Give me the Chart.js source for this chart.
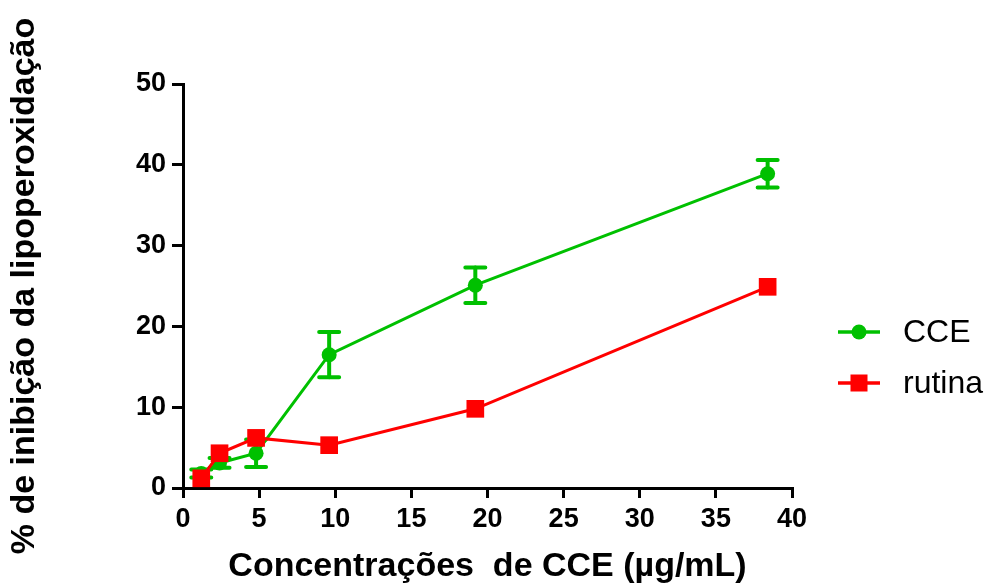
<!DOCTYPE html>
<html>
<head>
<meta charset="utf-8">
<script src="https://cdn.jsdelivr.net/npm/chart.js@4"></script>
<style>
  html, body { margin: 0; padding: 0; background: #fff; }
  #wrap { width: 989px; height: 584px; }
</style>
</head>
<body>
<div id="wrap"><canvas id="c" width="989" height="584"></canvas></div>
<script>
// Concentrations (µg/mL)
const concentrations = [1.2, 2.4, 4.8, 9.6, 19.2, 38.4];
// % inhibition, CCE extract (mean and error)
const cceValues = [1.8, 3.1, 4.3, 16.5, 25.1, 38.9];
const cceErrors = [0.5, 0.6, 1.7, 2.8, 2.2, 1.7];
// % inhibition, rutin reference
const rutinaValues = [1.2, 4.3, 6.2, 5.3, 9.8, 24.9];

const seriesNames = ['CCE', 'rutina'];
const xTicks = [0, 5, 10, 15, 20, 25, 30, 35, 40];
const yTicks = [0, 10, 20, 30, 40, 50];
const xTitle = 'Concentrações  de CCE (µg/mL)';
const yTitle = '% de inibição da lipoperoxidação';

const GREEN = '#00c000';
const RED = '#ff0000';
const FONT = '"Liberation Sans", Arial, sans-serif';

const toPoints = (xs, ys) => xs.map((x, i) => ({ x, y: ys[i] }));

// vertical error bars with caps for the CCE series
const errorBars = {
  id: 'errorBars',
  afterDatasetDraw(chart, args) {
    const ds = chart.data.datasets[args.index];
    if (!ds.errors) return;
    const xs = chart.scales.x, ys = chart.scales.y;
    const ctx = chart.ctx;
    ctx.save();
    ctx.strokeStyle = ds.borderColor;
    ctx.lineCap = 'round';
    ds.data.forEach((p, i) => {
      const e = ds.errors[i];
      const px = xs.getPixelForValue(p.x);
      const top = ys.getPixelForValue(p.y + e);
      const bot = ys.getPixelForValue(p.y - e);
      ctx.lineWidth = 4;
      ctx.beginPath();
      ctx.moveTo(px, top); ctx.lineTo(px, bot);
      ctx.stroke();
      ctx.lineWidth = 4;
      ctx.beginPath();
      ctx.moveTo(px - 10, top); ctx.lineTo(px + 10, top);
      ctx.moveTo(px - 10, bot); ctx.lineTo(px + 10, bot);
      ctx.stroke();
    });
    ctx.restore();
  }
};

// legend at the right: short line with the series marker, then the name
const sideLegend = {
  id: 'sideLegend',
  afterDraw(chart) {
    const ctx = chart.ctx;
    const area = chart.chartArea;
    const x0 = area.right + 46;
    const rows = [area.top + 248, area.top + 299];
    ctx.save();
    chart.data.datasets.forEach((ds, i) => {
      const y = rows[i];
      ctx.strokeStyle = ds.borderColor;
      ctx.fillStyle = ds.backgroundColor;
      ctx.lineWidth = 3.5;
      ctx.beginPath();
      ctx.moveTo(x0, y); ctx.lineTo(x0 + 42, y);
      ctx.stroke();
      if (ds.pointStyle === 'rect') {
        ctx.fillRect(x0 + 21 - 8.5, y - 8.5, 17, 17);
      } else {
        ctx.beginPath();
        ctx.arc(x0 + 21, y, 7.5, 0, Math.PI * 2);
        ctx.fill();
      }
      ctx.fillStyle = '#000';
      ctx.font = '32px ' + FONT;
      ctx.textBaseline = 'middle';
      ctx.textAlign = 'left';
      ctx.fillText(ds.label, x0 + 65, y + 1);
    });
    ctx.restore();
  }
};

new Chart(document.getElementById('c'), {
  type: 'line',
  data: {
    datasets: [
      {
        label: seriesNames[0],
        data: toPoints(concentrations, cceValues),
        errors: cceErrors,
        borderColor: GREEN,
        backgroundColor: GREEN,
        borderWidth: 3,
        pointStyle: 'circle',
        pointRadius: 7.5,
        pointBorderWidth: 0,
        order: 2
      },
      {
        label: seriesNames[1],
        data: toPoints(concentrations, rutinaValues),
        borderColor: RED,
        backgroundColor: RED,
        borderWidth: 3,
        pointStyle: 'rect',
        pointRadius: 12.5,
        pointBorderWidth: 0,
        order: 1
      }
    ]
  },
  options: {
    responsive: false,
    animation: false,
    devicePixelRatio: 1,
    layout: { padding: { left: 0, top: 84, right: 197, bottom: 0 } },
    plugins: { legend: { display: false }, tooltip: { enabled: false } },
    scales: {
      x: {
        type: 'linear',
        min: xTicks[0],
        max: xTicks[xTicks.length - 1],
        afterBuildTicks: s => { s.ticks = xTicks.map(v => ({ value: v })); },
        afterFit: s => { s.height = 96; },
        grid: { display: true, drawOnChartArea: false, drawTicks: true, tickLength: 10, lineWidth: 3, color: '#000' },
        border: { display: true, width: 3, color: '#000' },
        ticks: { color: '#000', padding: 5, font: { family: FONT, size: 27, weight: 'bold' } },
        title: { display: true, text: xTitle, color: '#000', padding: 0,
                 font: { family: FONT, size: 34, weight: 'bold', lineHeight: 1 } }
      },
      y: {
        type: 'linear',
        min: yTicks[0],
        max: yTicks[yTicks.length - 1],
        afterBuildTicks: s => { s.ticks = yTicks.map(v => ({ value: v })); },
        afterFit: s => { s.width = 183; },
        grid: { display: true, drawOnChartArea: false, drawTicks: true, tickLength: 11, lineWidth: 3, color: '#000' },
        border: { display: true, width: 3, color: '#000' },
        ticks: { color: '#000', padding: 6, font: { family: FONT, size: 27, weight: 'bold' } },
        title: { display: true, text: yTitle, color: '#000', padding: { top: 8, bottom: 0 },
                 font: { family: FONT, size: 34, weight: 'bold', lineHeight: 1 } }
      }
    }
  },
  plugins: [errorBars, sideLegend]
});
</script>
</body>
</html>
